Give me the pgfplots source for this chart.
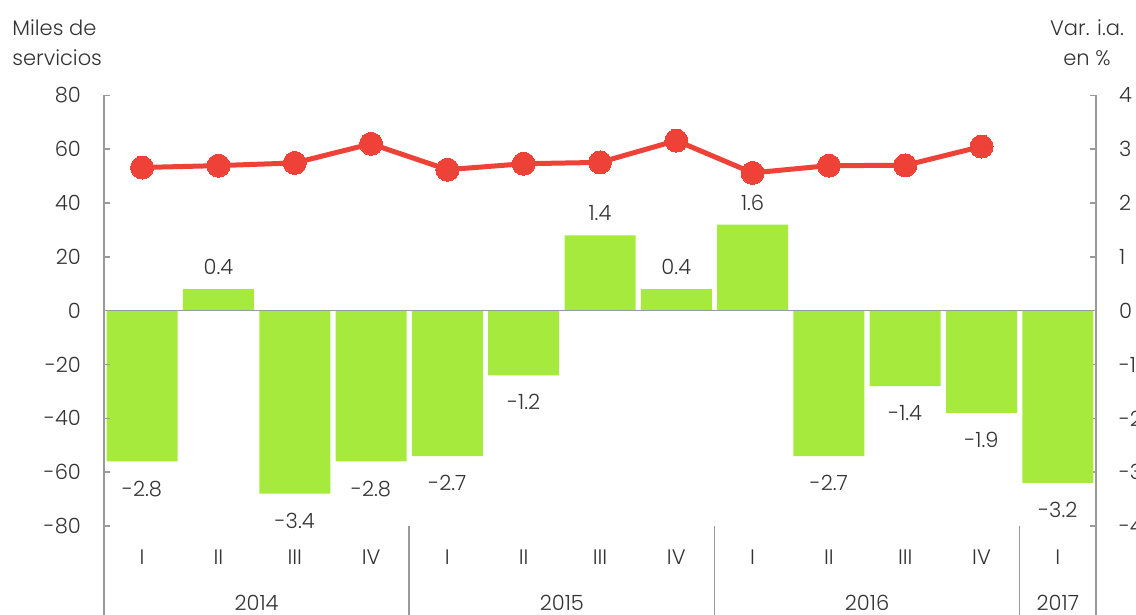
\documentclass[border=0pt]{standalone}
\usepackage{pgfplots}
\pgfplotsset{compat=1.18}
\usepackage{fontspec}
\setmainfont{Poppins}[UprightFont={* Light}]
\definecolor{barg}{HTML}{A6EA3D}
\definecolor{linered}{HTML}{EE4137}
\definecolor{txt}{HTML}{333333}
\definecolor{axg}{HTML}{9A9A9A}
\begin{document}
\begin{tikzpicture}[x=0.5pt,y=0.5pt]
\pgfplotsset{
  base/.style={
    at={(0,0)}, anchor=south west,
    scale only axis, width=496pt, height=215.3pt,
    xmin=-0.5, xmax=12.5,
    axis x line=none,
    clip=false,
    axis line style={axg, line width=0.8pt},
    major tick style={axg, line width=0.8pt},
    major tick length=3pt,
    tick align=inside,
    tick label style={font=\fontsize{10.5}{12}\selectfont, text=txt},
    /pgf/number format/assume math mode=true,
  },
  lbl/.style={nodes near coords,
    every node near coord/.append style={font=\fontsize{10.5}{12}\selectfont, text=txt, inner sep=0pt,
      /pgf/number format/fixed, /pgf/number format/fixed zerofill, /pgf/number format/precision=1}},
}
% bars: right axis (%)
\begin{axis}[base,
  ymin=-4, ymax=4, ytick={-4,-3,...,4},
  axis y line*=right,
  yticklabel style={anchor=west, xshift=8pt},
  ]
\addplot[ybar, bar shift=0pt, bar width=35.5pt, fill=barg, draw=none,
  lbl, nodes near coords style={anchor=north, yshift=-9.5pt}]
  coordinates {
(0,-2.8) (2,-3.4) (3,-2.8) (4,-2.7) (5,-1.2) (9,-2.7) (10,-1.4) (11,-1.9) (12,-3.2)
};
\addplot[ybar, bar shift=0pt, bar width=35.5pt, fill=barg, draw=none,
  lbl, nodes near coords style={anchor=south, yshift=7pt}]
  coordinates {
(1,0.4) (6,1.4) (7,0.4) (8,1.6)
};
\end{axis}
% line: left axis (miles de servicios)
\begin{axis}[base,
  ymin=-80, ymax=80, ytick={-80,-60,...,80},
  axis y line*=left,
  yticklabel style={anchor=east, xshift=-8pt},
  ]
\addplot[linered, line width=2.5pt, mark=*, mark size=5.75pt, mark options={fill=linered, draw=linered, line width=0pt}] coordinates {
(0,53.2) (1,53.9) (2,54.9) (3,62.0) (4,52.4) (5,54.6) (6,55.1) (7,63.2) (8,51.2) (9,53.9) (10,54.0) (11,61.0)
};
% extended axis and separator lines
\draw[axg, line width=0.8pt] (axis cs:-0.5,-80) -- (axis cs:-0.5,-115);
\draw[axg, line width=0.8pt] (axis cs:12.5,-80) -- (axis cs:12.5,-115);
\draw[axg, line width=0.8pt] (axis cs:3.5,-80) -- (axis cs:3.5,-115);
\draw[axg, line width=0.8pt] (axis cs:7.5,-80) -- (axis cs:7.5,-115);
\draw[axg, line width=0.8pt] (axis cs:11.5,-80) -- (axis cs:11.5,-115);
\draw[axg, line width=0.8pt] (axis cs:-0.5,0) -- (axis cs:12.5,0);
% quarter labels
\tikzset{ql/.style={text=txt, font=\fontsize{10.5}{12}\selectfont}}
\node[ql] at (axis cs:0,-91.5) {I};
\node[ql] at (axis cs:1,-91.5) {II};
\node[ql] at (axis cs:2,-91.5) {III};
\node[ql] at (axis cs:3,-91.5) {IV};
\node[ql] at (axis cs:4,-91.5) {I};
\node[ql] at (axis cs:5,-91.5) {II};
\node[ql] at (axis cs:6,-91.5) {III};
\node[ql] at (axis cs:7,-91.5) {IV};
\node[ql] at (axis cs:8,-91.5) {I};
\node[ql] at (axis cs:9,-91.5) {II};
\node[ql] at (axis cs:10,-91.5) {III};
\node[ql] at (axis cs:11,-91.5) {IV};
\node[ql] at (axis cs:12,-91.5) {I};
\node[ql] at (axis cs:1.5,-108.5) {2014};
\node[ql] at (axis cs:5.5,-108.5) {2015};
\node[ql] at (axis cs:9.5,-108.5) {2016};
\node[ql] at (axis cs:12,-108.5) {2017};
\end{axis}
\node[text=txt, font=\fontsize{10.5}{15}\selectfont, align=left, anchor=north west, inner sep=0pt] at (12-104, 526-19) {Miles de\\servicios};
\node[text=txt, font=\fontsize{10.5}{15}\selectfont, align=center, anchor=north, inner sep=0pt] at (1087-104, 526-19) {Var. i.a.\\en \%};
\pgfresetboundingbox
\path[use as bounding box] (-104,-89) rectangle (1032,526);
\end{tikzpicture}
\end{document}
